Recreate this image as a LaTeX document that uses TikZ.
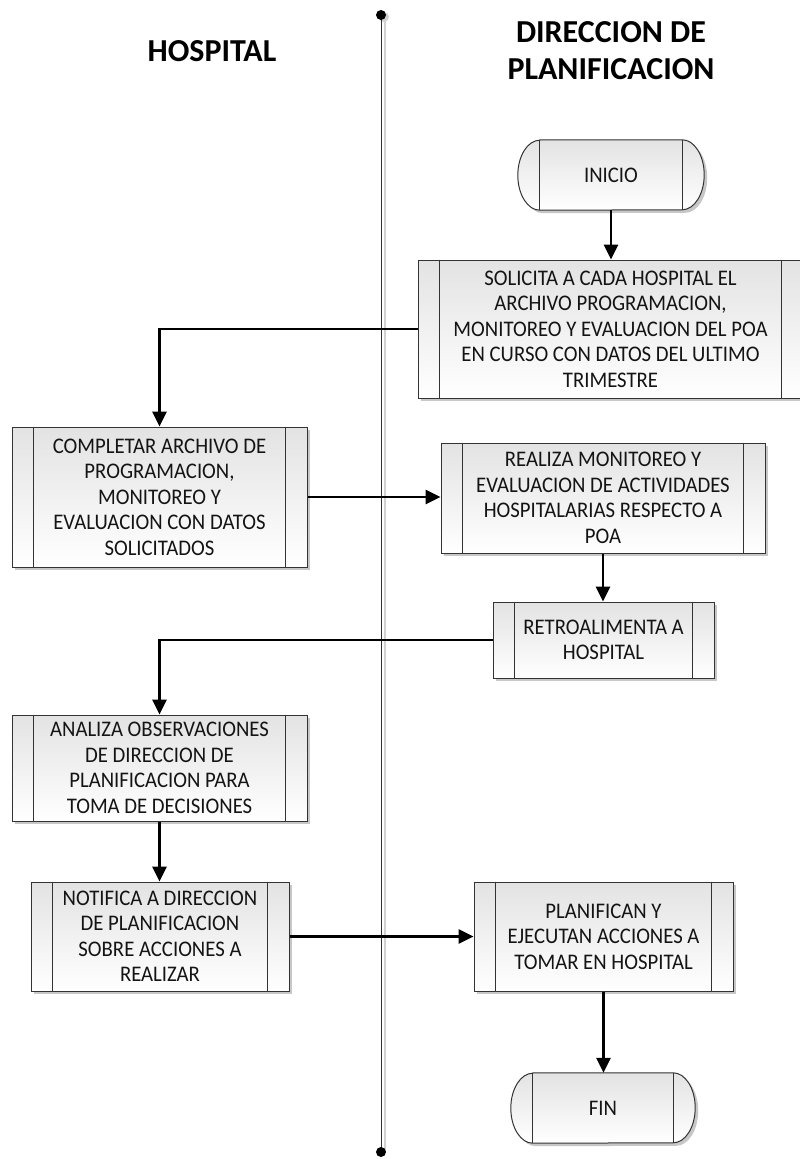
\documentclass[tikz,border=0pt]{standalone}
\usepackage{fontspec}
\setmainfont{Carlito}
\newfontfamily\boxfont[FakeStretch=0.93]{Carlito}
\usetikzlibrary{arrows.meta,shadows}
\begin{document}
\begin{tikzpicture}[x=1pt,y=1pt,
  every node/.style={font=\boxfont\fontsize{22.3}{25.5}\selectfont, text=black!92, inner sep=0pt},
  procbox/.style={rectangle, draw=black!80, line width=1pt, top color=black!11, bottom color=white,
    align=center, drop shadow={shadow xshift=3pt, shadow yshift=-3pt, fill=black!22, opacity=1}},
  termbox/.style={rectangle, minimum height=70pt, align=center},
  innerline/.style={draw=black!80, line width=1pt},
  flow/.style={draw=black, line width=2.7pt, -{Triangle[length=15pt,width=14pt]}},
  header/.style={font=\bfseries\fontsize{32}{37}\selectfont, align=center, text=black}
]
\fill[white] (0,0) rectangle (800,-1159);
\useasboundingbox (0,0) rectangle (800,-1159);

% swimlane divider
\coordinate (dtop) at (381,-15);
\coordinate (dbot) at (381,-1152);
\draw[black!18, line width=1.2pt] ([xshift=4pt]dtop) -- ([xshift=4pt]dbot);
\fill[black!18] ([shift={(3pt,-2pt)}]dtop) circle (5pt);
\draw[black!80, line width=1pt] (dtop) -- (dbot);
\fill (dtop) circle (5pt);
\fill (dbot) circle (5pt);

% lane headers
\node[header] (hosp) at (212,-51) {HOSPITAL};
\node[header] (dirp) at (611,-51) {DIRECCION DE\\PLANIFICACION};

% process boxes
\node[procbox, minimum width=385pt, minimum height=138pt] (solicita) at (610.5,-329)
  {SOLICITA A CADA HOSPITAL EL\\ARCHIVO PROGRAMACION,\\MONITOREO Y EVALUACION DEL POA\\EN CURSO CON DATOS DEL ULTIMO\\TRIMESTRE};
\node[procbox, minimum width=295pt, minimum height=140pt] (completar) at (159.5,-497)
  {COMPLETAR ARCHIVO DE\\PROGRAMACION,\\MONITOREO Y\\EVALUACION CON DATOS\\SOLICITADOS};
\node[procbox, minimum width=324pt, minimum height=110pt] (realiza) at (603,-498)
  {REALIZA MONITOREO Y\\EVALUACION DE ACTIVIDADES\\HOSPITALARIAS RESPECTO A\\POA};
\node[procbox, minimum width=221pt, minimum height=76pt] (retro) at (603.5,-640)
  {RETROALIMENTA A\\HOSPITAL};
\node[procbox, minimum width=295pt, minimum height=106pt] (analiza) at (159.5,-768)
  {ANALIZA OBSERVACIONES\\DE DIRECCION DE\\PLANIFICACION PARA\\TOMA DE DECISIONES};
\node[procbox, minimum width=258pt, minimum height=109pt] (notifica) at (160,-936.5)
  {NOTIFICA A DIRECCION\\DE PLANIFICACION\\SOBRE ACCIONES A\\REALIZAR};
\node[procbox, minimum width=259pt, minimum height=109pt] (planifican) at (603.5,-936.5)
  {PLANIFICAN Y\\EJECUTAN ACCIONES A\\TOMAR EN HOSPITAL};

% side bars of the predefined-process boxes
\foreach \n in {solicita,completar,realiza,retro,analiza,notifica,planifican}{
  \draw[innerline] ([xshift=22pt]\n.north west) -- ([xshift=22pt]\n.south west);
  \draw[innerline] ([xshift=-22pt]\n.north east) -- ([xshift=-22pt]\n.south east);
}

% terminators: outline drawn around the named node's inner rectangle
\newcommand\termshape[1]{%
  \fill[black!22] ([shift={(3pt,-3pt)}]#1.north west) -- ([shift={(3pt,-3pt)}]#1.north east)
    arc[start angle=90,end angle=-90,x radius=22pt,y radius=35pt]
    -- ([shift={(3pt,-3pt)}]#1.south west)
    arc[start angle=270,end angle=90,x radius=22pt,y radius=35pt] -- cycle;
  \shade[top color=black!11, bottom color=white, draw=black!80, line width=1pt]
    (#1.north west) -- (#1.north east)
    arc[start angle=90,end angle=-90,x radius=22pt,y radius=35pt]
    -- (#1.south west)
    arc[start angle=270,end angle=90,x radius=22pt,y radius=35pt] -- cycle;
  \draw[innerline] (#1.north west) -- (#1.south west);
  \draw[innerline] (#1.north east) -- (#1.south east);
}
\path (611,-175) coordinate (inicioc);
\path (603,-1108) coordinate (finc);
\node[termbox, minimum width=142pt] (inicio0) at (inicioc) {};
\node[termbox, minimum width=140pt] (fin0) at (finc) {};
\termshape{inicio0}
\termshape{fin0}
\node[termbox, minimum width=142pt] (inicio) at (inicioc) {INICIO};
\node[termbox, minimum width=140pt] (fin) at (finc) {FIN};

% flow connectors
\draw[flow] (inicio.south) -- (inicio.south |- solicita.north);
\draw[flow] (solicita.west) -| (completar.north);
\draw[flow] (completar.east) -- (realiza.west |- completar.east);
\draw[flow] (realiza.south) -- (realiza.south |- retro.north);
\draw[flow] (retro.west) -| (analiza.north);
\draw[flow] (analiza.south) -- (analiza.south |- notifica.north);
\draw[flow] (notifica.east) -- (planifican.west);
\draw[flow] (planifican.south) -- (planifican.south |- fin.north);
\end{tikzpicture}
\end{document}
